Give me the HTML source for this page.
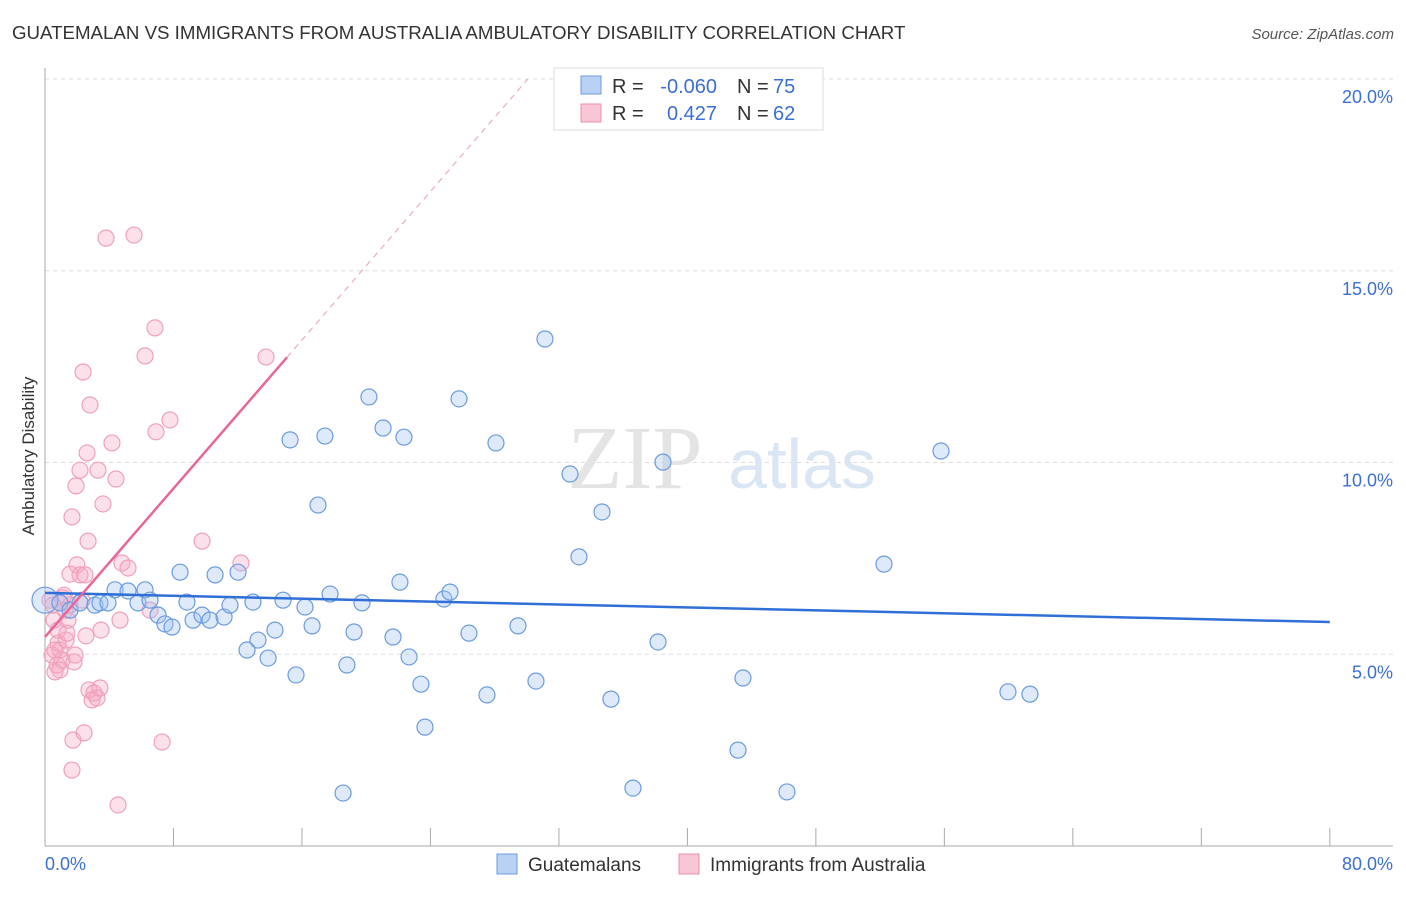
<!DOCTYPE html>
<html><head><meta charset="utf-8"><style>
body{margin:0;background:#fff;font-family:"Liberation Sans",sans-serif}
</style></head><body>
<svg id="c" width="1406" height="892" xmlns="http://www.w3.org/2000/svg" style="font-family:'Liberation Sans',sans-serif">
<text x="12" y="39" font-size="18.7" fill="#333">GUATEMALAN VS IMMIGRANTS FROM AUSTRALIA AMBULATORY DISABILITY CORRELATION CHART</text>
<text x="1394" y="39" font-size="15" fill="#555" text-anchor="end" font-style="italic">Source: ZipAtlas.com</text>
<g id="grid"></g>
<g><text x="635" y="488" font-size="90" fill="#e4e4e4" font-family="'Liberation Serif',serif" text-anchor="middle">ZIP</text><text x="802" y="488" font-size="70" fill="#dbe6f5" text-anchor="middle">atlas</text></g>
<text transform="translate(34,456) rotate(-90)" font-size="17" fill="#333" text-anchor="middle">Ambulatory Disability</text>
<g id="marks"></g>
<g>
<rect x="554" y="68" width="269" height="62" fill="#fff" stroke="#ddd"/>
<rect x="581" y="76" width="20" height="18" fill="#b9d1f2" stroke="#6c9be0"/>
<rect x="581" y="104" width="20" height="18" fill="#f9c6d6" stroke="#ec8fae"/>
<text x="612" y="93" font-size="20" fill="#333">R =</text>
<text x="717" y="93" font-size="20" fill="#3b6fd4" text-anchor="end">-0.060</text>
<text x="737" y="93" font-size="20" fill="#333">N =</text>
<text x="773" y="93" font-size="20" fill="#3b6fd4">75</text>
<text x="612" y="120" font-size="20" fill="#333">R =</text>
<text x="717" y="120" font-size="20" fill="#3b6fd4" text-anchor="end">0.427</text>
<text x="737" y="120" font-size="20" fill="#333">N =</text>
<text x="773" y="120" font-size="20" fill="#3b6fd4">62</text>
</g>
<g>
<rect x="497" y="854" width="20" height="20" fill="#b9d1f2" stroke="#6c9be0"/>
<text x="528" y="871" font-size="19" fill="#333">Guatemalans</text>
<rect x="679" y="854" width="20" height="20" fill="#f9c6d6" stroke="#ec8fae"/>
<text x="710" y="871" font-size="19" fill="#333">Immigrants from Australia</text>
</g>
</svg>
<script>
const blueX=[0,0.93,1.56,2.18,3.11,3.42,3.92,4.36,5.17,5.79,6.23,6.54,7.04,7.47,7.91,8.41,8.84,9.22,9.78,10.27,10.59,11.15,11.52,12.02,12.58,12.95,13.26,13.89,14.32,14.82,15.26,15.63,16.19,16.63,17.0,17.43,17.75,18.56,18.8,19.24,19.74,20.17,21.05,21.67,22.1,22.35,22.67,23.41,23.66,24.84,25.22,25.78,26.4,27.52,28.08,29.45,30.57,31.13,32.69,33.25,34.68,35.24,36.61,38.17,38.48,43.15,43.46,46.2,52.24,55.79,59.96,61.33];
const blueY=[6.41,6.34,6.15,6.34,6.28,6.34,6.34,6.68,6.65,6.34,6.68,6.41,6.02,5.79,5.71,7.14,6.36,5.89,6.02,5.89,7.07,5.97,6.28,7.14,5.11,6.36,5.37,4.90,5.63,6.41,10.59,4.46,6.23,5.74,8.89,10.69,6.57,1.38,4.72,5.58,6.34,11.71,10.9,5.45,6.88,10.66,4.93,4.22,3.10,6.44,6.62,11.66,5.55,3.94,10.51,5.74,4.30,13.22,9.70,7.54,8.71,3.83,1.51,5.32,10.01,2.50,4.38,1.41,7.35,10.30,4.02,3.96];
const pinkX=[0.31,0.44,0.56,0.62,0.75,0.81,0.93,1.06,1.12,1.25,1.31,1.43,1.56,1.68,1.68,1.74,1.81,1.87,1.93,1.99,2.18,2.30,2.37,2.43,2.55,2.62,2.68,2.74,2.80,2.93,3.05,3.24,3.49,3.61,3.80,4.17,4.42,4.55,4.67,4.79,5.17,5.54,6.23,6.54,6.85,6.91,7.29,7.78,9.78,12.2,13.76,1.56,0.93,0.81,1.18,2.18,3.42,0.62,1.37,2.49,3.30,0.50];
const pinkY=[6.41,4.98,5.89,4.54,4.72,5.29,5.11,4.85,6.47,6.15,5.37,5.89,6.28,1.98,8.58,2.76,4.80,4.98,9.39,7.33,7.07,6.41,12.36,2.95,5.48,10.25,7.95,4.07,11.50,3.81,3.99,3.86,5.63,8.92,15.85,10.51,9.57,1.07,5.89,7.38,7.25,15.93,12.78,6.15,13.51,10.80,2.71,11.11,7.95,7.38,12.75,7.09,4.59,5.63,6.54,9.80,4.12,5.11,5.55,7.07,9.80,6.28];
const yTicks=[5,10,15,20];
const xTickVals=[0,8,16,24,32,40,48,56,64,72,80];
const blueTrend=[6.60,5.84];
const pinkTrend=[5.45,0.484,15.07];
const NS='http://www.w3.org/2000/svg';
const sx=v=>45+v*16.06, sy=v=>846-v*38.35;
function mk(p,t,a){const e=document.createElementNS(NS,t);for(const k in a)e.setAttribute(k,a[k]);p.appendChild(e);return e;}
const g=document.getElementById('grid'),m=document.getElementById('marks');
yTicks.forEach(t=>{const l=mk(g,'line',{x1:45,x2:1393,y1:sy(t),y2:sy(t),stroke:'#ddd','stroke-dasharray':'4,4'});


const tx=mk(g,'text',{x:1393,y:sy(t)+24,'font-size':18,fill:'#3b6fd4','text-anchor':'end'});tx.textContent=t.toFixed(1)+'%';

});
const ax=mk(g,'line',{x1:45,x2:1393,y1:846,y2:846,stroke:'#aaa'});


const ay=mk(g,'line',{x1:45,x2:45,y1:68,y2:846,stroke:'#aaa'});


xTickVals.forEach(t=>{const l=mk(g,'line',{x1:sx(t),x2:sx(t),y1:828,y2:846,stroke:'#aaa'});

});
[[0,'start',45],[80,'end',1393]].forEach(([v,a,x])=>{const t=mk(g,'text',{x:x,y:870,'font-size':18,fill:'#3b6fd4','text-anchor':a});t.textContent=v.toFixed(1)+'%';

});
pinkX.forEach((x,i)=>{const c=mk(m,'circle',{cx:sx(x),cy:sy(pinkY[i]),r:8,fill:'rgba(246,170,195,0.35)',stroke:'#f0a0bc','stroke-width':1.2});

});
blueX.forEach((x,i)=>{const c=mk(m,'circle',{cx:sx(x),cy:sy(blueY[i]),r:i==0?13:8,fill:'rgba(160,195,240,0.35)',stroke:'#6c9be0','stroke-width':1.2});

});
const bt=mk(m,'line',{x1:sx(0),y1:sy(blueTrend[0]),x2:sx(80),y2:sy(blueTrend[1]),stroke:'#2f6fd6','stroke-width':2.5});


const pe=pinkTrend[2],xe=(20-pinkTrend[0])/pinkTrend[1];
const pt=mk(m,'line',{x1:sx(0),y1:sy(pinkTrend[0]),x2:sx(pe),y2:sy(pinkTrend[0]+pinkTrend[1]*pe),stroke:'#e8679a','stroke-width':2.5});


const pd=mk(m,'line',{x1:sx(pe),y1:sy(pinkTrend[0]+pinkTrend[1]*pe),x2:sx(xe),y2:sy(20),stroke:'#eeaac4','stroke-width':1.2,'stroke-dasharray':'6,5'});


</script>
</body></html>
